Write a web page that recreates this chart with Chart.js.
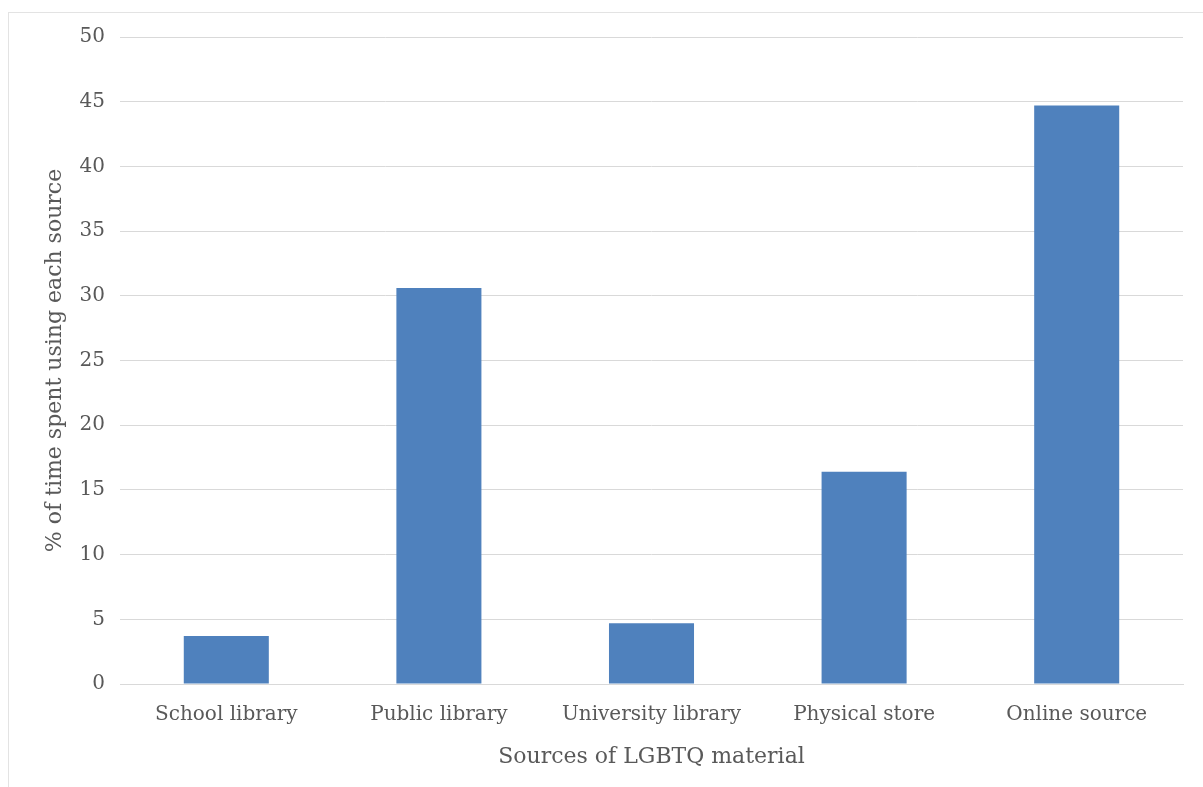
<!DOCTYPE html>
<html>
<head>
<meta charset="utf-8">
<script src="https://cdn.jsdelivr.net/npm/chart.js@4"></script>
<style>
  html, body { margin: 0; padding: 0; background: #fff; }
  #wrap { position: relative; width: 1203px; height: 787px; overflow: hidden; }
  #frame { position: absolute; left: 8px; top: 12px; width: 1300px; height: 900px; border: 1px solid #e3e3e3; }
  #chartBox { position: absolute; left: 0; top: 0; width: 1203px; height: 787px; }
</style>
</head>
<body>
<div id="wrap">
  <div id="frame"></div>
  <div id="chartBox"><canvas id="sourcesChart"></canvas></div>
</div>
<script>
const categories = ['School library', 'Public library', 'University library', 'Physical store', 'Online source'];
const percentValues = [3.7, 30.6, 4.7, 16.4, 44.7];
const yTicks = [0, 5, 10, 15, 20, 25, 30, 35, 40, 45, 50];

document.addEventListener('DOMContentLoaded', function() {
    const textColor = '#595959';
    const fontFamily = "'DejaVu Serif', serif";

    new Chart(document.getElementById('sourcesChart'), {
        type: 'bar',
        data: {
            labels: categories,
            datasets: [{
                label: '% of time',
                data: percentValues,
                backgroundColor: '#4f81bd',
                borderWidth: 0,
                categoryPercentage: 0.4,
                barPercentage: 1.0
            }]
        },
        options: {
            responsive: true,
            maintainAspectRatio: false,
            animation: false,
            layout: { padding: { left: 20, right: 20, top: 37, bottom: 10 } },
            plugins: {
                legend: { display: false },
                tooltip: { enabled: false }
            },
            scales: {
                x: {
                    grid: { display: false },
                    border: { color: '#d9d9d9', width: 1 },
                    ticks: { color: textColor, font: { family: fontFamily, size: 20 }, padding: 11, maxRotation: 0 },
                    title: { display: true, text: 'Sources of LGBTQ material', color: textColor, font: { family: fontFamily, size: 22 }, padding: { top: 4, bottom: 7 } },
                    afterFit: function(scale) { scale.height = 93; }
                },
                y: {
                    min: 0,
                    max: 50,
                    afterBuildTicks: function(scale) { scale.ticks = yTicks.map(v => ({ value: v })); },
                    grid: { color: '#d9d9d9', drawTicks: false },
                    border: { display: false },
                    ticks: { color: textColor, font: { family: fontFamily, size: 20 }, padding: 15 },
                    title: { display: true, text: '% of time spent using each source', color: textColor, font: { family: fontFamily, size: 22 }, padding: { top: 22, bottom: 4 } },
                    afterFit: function(scale) { scale.width = 100; }
                }
            }
        }
    });
});
</script>
</body>
</html>
